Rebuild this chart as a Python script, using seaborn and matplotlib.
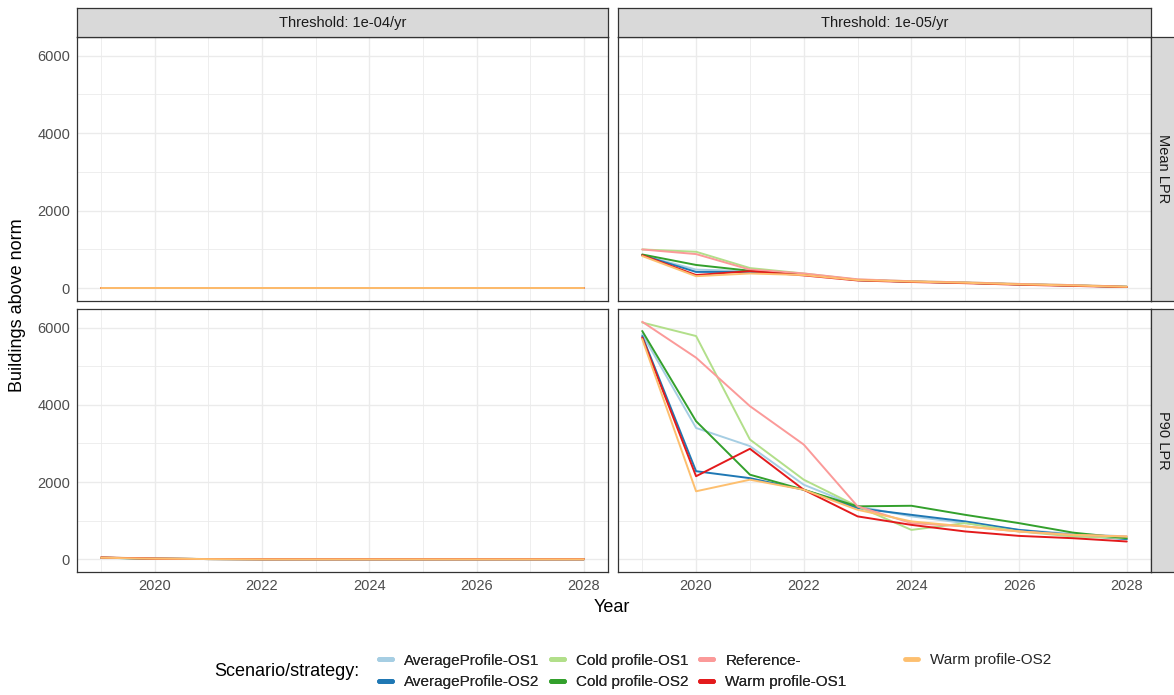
import numpy as np
import pandas as pd
import matplotlib
matplotlib.use("Agg")
import matplotlib.pyplot as plt
from matplotlib.lines import Line2D
import seaborn as sns

sns.set_theme(style="white")
plt.rcParams['font.family'] = ['Liberation Sans', 'DejaVu Sans']

years = [2019, 2020, 2021, 2022, 2023, 2024, 2025, 2026, 2027, 2028]
scenarios = ["AverageProfile-OS1", "AverageProfile-OS2", "Cold profile-OS1",
             "Cold profile-OS2", "Reference-", "Warm profile-OS1", "Warm profile-OS2"]
colors = ["#A6CEE3", "#1F78B4", "#B2DF8A", "#33A02C", "#FB9A99", "#E31A1C", "#FDBF6F"]
thresholds = ["Threshold: 1e-04/yr", "Threshold: 1e-05/yr"]
metrics = ["Mean LPR", "P90 LPR"]

# Threshold 1e-04, Mean LPR (all zero)
t4_mean_avg1 = [0, 0, 0, 0, 0, 0, 0, 0, 0, 0]
t4_mean_avg2 = [0, 0, 0, 0, 0, 0, 0, 0, 0, 0]
t4_mean_cold1 = [0, 0, 0, 0, 0, 0, 0, 0, 0, 0]
t4_mean_cold2 = [0, 0, 0, 0, 0, 0, 0, 0, 0, 0]
t4_mean_ref = [0, 0, 0, 0, 0, 0, 0, 0, 0, 0]
t4_mean_warm1 = [0, 0, 0, 0, 0, 0, 0, 0, 0, 0]
t4_mean_warm2 = [0, 0, 0, 0, 0, 0, 0, 0, 0, 0]

# Threshold 1e-04, P90 LPR
t4_p90_avg1 = [40, 15, 5, 0, 0, 0, 0, 0, 0, 0]
t4_p90_avg2 = [40, 15, 5, 0, 0, 0, 0, 0, 0, 0]
t4_p90_cold1 = [45, 20, 5, 0, 0, 0, 0, 0, 0, 0]
t4_p90_cold2 = [40, 15, 5, 0, 0, 0, 0, 0, 0, 0]
t4_p90_ref = [45, 20, 5, 0, 0, 0, 0, 0, 0, 0]
t4_p90_warm1 = [45, 15, 5, 0, 0, 0, 0, 0, 0, 0]
t4_p90_warm2 = [40, 15, 5, 0, 0, 0, 0, 0, 0, 0]

# Threshold 1e-05, Mean LPR
t5_mean_avg1 = [850, 480, 440, 360, 210, 170, 140, 100, 70, 35]
t5_mean_avg2 = [850, 420, 420, 360, 210, 170, 140, 100, 70, 35]
t5_mean_cold1 = [1000, 940, 520, 380, 220, 180, 150, 110, 80, 40]
t5_mean_cold2 = [870, 600, 450, 360, 210, 170, 140, 100, 70, 35]
t5_mean_ref = [1000, 880, 480, 380, 230, 180, 150, 110, 80, 40]
t5_mean_warm1 = [850, 340, 440, 330, 200, 160, 130, 90, 60, 30]
t5_mean_warm2 = [830, 310, 380, 340, 210, 170, 140, 100, 70, 35]

# Threshold 1e-05, P90 LPR
t5_p90_avg1 = [5830, 3400, 2930, 1930, 1370, 1110, 935, 760, 660, 590]
t5_p90_avg2 = [5780, 2280, 2100, 1800, 1325, 1150, 980, 760, 630, 520]
t5_p90_cold1 = [6130, 5780, 3100, 2060, 1370, 760, 935, 720, 590, 545]
t5_p90_cold2 = [5910, 3575, 2190, 1800, 1370, 1385, 1150, 935, 690, 545]
t5_p90_ref = [6150, 5220, 3965, 2970, 1370, 935, 850, 720, 630, 590]
t5_p90_warm1 = [5740, 2150, 2860, 1800, 1110, 890, 720, 605, 545, 460]
t5_p90_warm2 = [5700, 1760, 2060, 1800, 1280, 980, 850, 720, 630, 590]

panels = {
    (thresholds[0], metrics[0]): [t4_mean_avg1, t4_mean_avg2, t4_mean_cold1, t4_mean_cold2, t4_mean_ref, t4_mean_warm1, t4_mean_warm2],
    (thresholds[0], metrics[1]): [t4_p90_avg1, t4_p90_avg2, t4_p90_cold1, t4_p90_cold2, t4_p90_ref, t4_p90_warm1, t4_p90_warm2],
    (thresholds[1], metrics[0]): [t5_mean_avg1, t5_mean_avg2, t5_mean_cold1, t5_mean_cold2, t5_mean_ref, t5_mean_warm1, t5_mean_warm2],
    (thresholds[1], metrics[1]): [t5_p90_avg1, t5_p90_avg2, t5_p90_cold1, t5_p90_cold2, t5_p90_ref, t5_p90_warm1, t5_p90_warm2],
}

rows = []
for (thr, met), series in panels.items():
    for scen, vals in zip(scenarios, series):
        for y, v in zip(years, vals):
            rows.append({"Threshold": thr, "Metric": met, "Scenario": scen, "Year": y, "Buildings": v})
df = pd.DataFrame(rows)

W, H = 1174, 695
fig = plt.figure(figsize=(W / 100, H / 100), dpi=100)
fig.patch.set_facecolor("white")

def fx(px):
    return px / W

def fy(py):
    return 1 - py / H

col_x = [(77, 608), (618, 1151)]
row_y = [(37, 301), (309, 572)]
border = "#333333"
grid_c = "#EBEBEB"
tick_c = "#4D4D4D"

for ci, thr in enumerate(thresholds):
    x0, x1 = col_x[ci]
    for ri, met in enumerate(metrics):
        y0, y1 = row_y[ri]
        ax = fig.add_axes([fx(x0), fy(y1), fx(x1 - x0), (y1 - y0) / H])
        sub = df[(df.Threshold == thr) & (df.Metric == met)]
        sns.lineplot(data=sub, x="Year", y="Buildings", hue="Scenario",
                     hue_order=scenarios, palette=colors, ax=ax, legend=False,
                     lw=1.4, estimator=None, errorbar=None)
        ax.set_xlim(2018.55, 2028.45)
        ax.set_ylim(-330, 6480)
        ax.set_xticks([2020, 2022, 2024, 2026, 2028])
        ax.set_xticks([2019, 2021, 2023, 2025, 2027], minor=True)
        ax.set_yticks([0, 2000, 4000, 6000])
        ax.set_yticks([1000, 3000, 5000], minor=True)
        ax.grid(True, which="major", color=grid_c, lw=1.0)
        ax.grid(True, which="minor", color=grid_c, lw=0.6)
        ax.set_axisbelow(True)
        for s in ax.spines.values():
            s.set_color(border)
            s.set_linewidth(0.9)
        ax.set_xlabel("")
        ax.set_ylabel("")
        ax.tick_params(axis="both", which="major", length=3, width=0.8,
                       color=tick_c, labelcolor=tick_c, labelsize=10.5, pad=2)
        ax.tick_params(axis="both", which="minor", length=0)
        if ci != 0:
            ax.tick_params(axis="y", labelleft=False, length=0)
        if ri != 1:
            ax.tick_params(axis="x", labelbottom=False, length=0)
        # top strip
        if ri == 0:
            sax = fig.add_axes([fx(x0), fy(37), fx(x1 - x0), 29 / H])
            sax.set_facecolor("#D9D9D9")
            sax.set_xticks([]); sax.set_yticks([])
            for s in sax.spines.values():
                s.set_color(border); s.set_linewidth(0.9)
            sax.text(0.5, 0.5, thr, ha="center", va="center", fontsize=10.5,
                     color="#1A1A1A", transform=sax.transAxes)
        # right strip
        if ci == 1:
            rax = fig.add_axes([fx(1151), fy(y1), fx(26), (y1 - y0) / H])
            rax.set_facecolor("#D9D9D9")
            rax.set_xticks([]); rax.set_yticks([])
            for s in rax.spines.values():
                s.set_color(border); s.set_linewidth(0.9)
            rax.text(0.45, 0.5, met, ha="center", va="center", rotation=-90,
                     fontsize=10.5, color="#1A1A1A", transform=rax.transAxes)

fig.text(fx(612), fy(607), "Year", ha="center", va="center", fontsize=13, color="black")
fig.text(fx(18), fy(305), "Buildings above norm", ha="center", va="center",
         rotation=90, fontsize=13, color="black")

fig.text(fx(359), fy(672), "Scenario/strategy:", ha="right", va="center",
         fontsize=13, color="black")
handles = [Line2D([0], [0], color=c, lw=3.5) for c in colors]
common = dict(frameon=False, fontsize=11, handlelength=0.85, handletextpad=0.8,
              labelspacing=0.5, borderaxespad=0, borderpad=0)
leg1 = fig.legend(handles[:6], scenarios[:6], ncol=3, loc="center left",
                  bbox_to_anchor=(fx(379), fy(671.5)), columnspacing=0.75, **common)
fig.add_artist(leg1)
leg2 = fig.legend(handles[6:], scenarios[6:], ncol=1, loc="center left",
                  bbox_to_anchor=(fx(905), fy(660)), **common)

fig.savefig("out.png", dpi=100, facecolor="white")
